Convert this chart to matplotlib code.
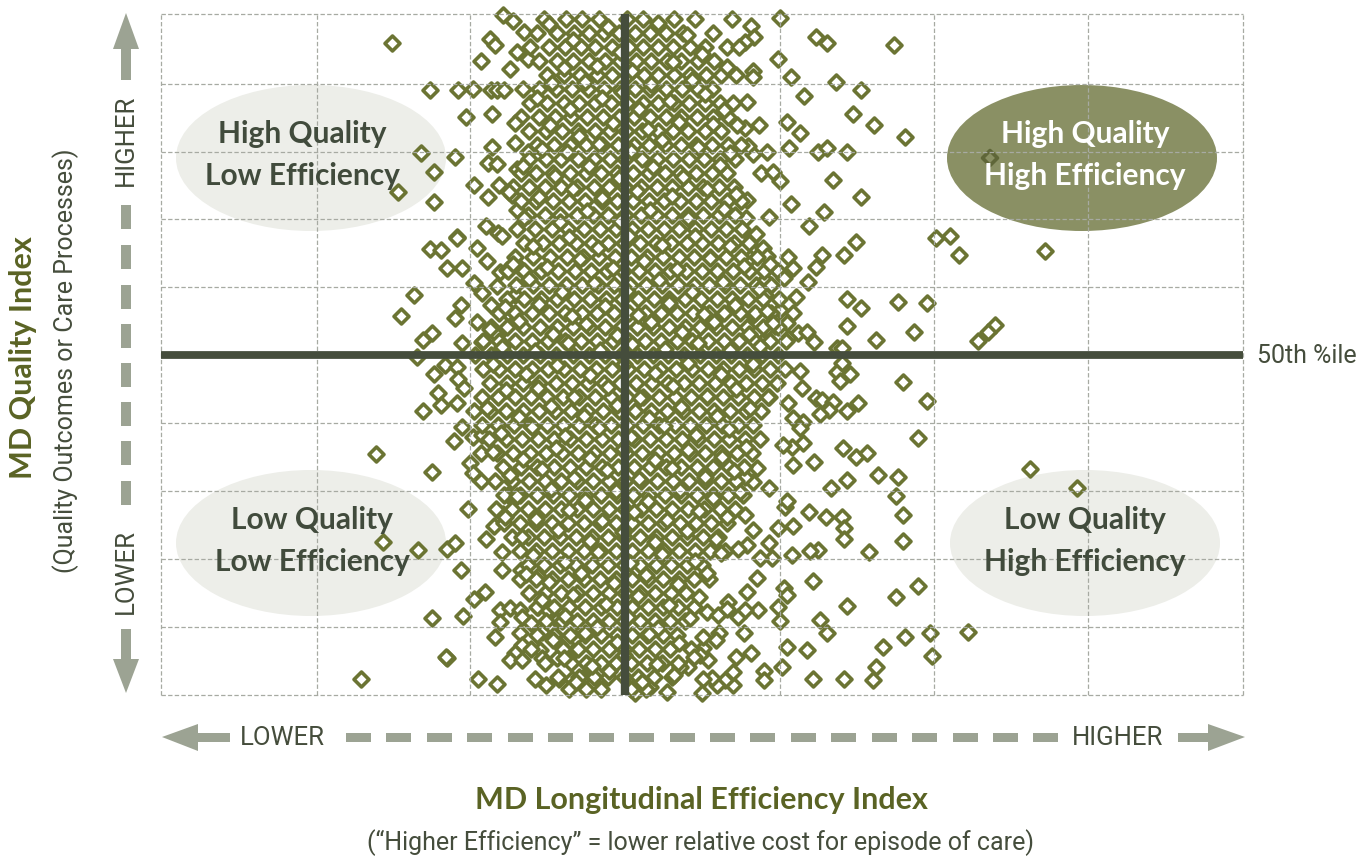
from matplotlib import pyplot as plt
from matplotlib.patches import Ellipse, Polygon, Rectangle

# values, index units on both axes
eff_grid = [0, 156, 309, 464, 619, 773, 927, 1082]
qual_grid = [0, 68, 136, 204, 272, 340, 408, 476, 543, 611, 681]
eff_median = 464
qual_median = 340

# scattered points around the dense cloud (efficiency, quality)
upper_left = [(231, 652), (329, 656), (334, 650), (320, 634), (342, 680), (352, 674), (363, 663), (356, 643),
              (367, 636), (349, 626), (269, 605), (297, 605), (312, 606), (330, 605), (336, 605), (343, 605),
              (305, 578), (331, 581), (260, 542), (294, 538), (331, 548), (354, 552), (367, 543), (273, 523),
              (327, 532), (336, 531), (356, 526), (237, 503), (273, 493), (313, 510), (327, 498), (338, 510),
              (351, 500), (356, 485), (325, 469), (337, 462), (296, 458), (296, 457), (269, 446), (280, 445),
              (316, 447), (326, 434), (286, 427), (301, 427), (339, 423), (346, 425), (359, 427), (253, 400),
              (240, 379), (313, 412), (321, 402), (300, 390), (294, 377), (330, 390), (271, 362), (262, 355),
              (301, 352), (316, 373), (321, 353), (336, 360), (347, 382), (354, 400)]
lower_left = [(256, 338), (284, 330), (296, 328), (273, 321), (297, 316), (303, 307), (277, 302), (280, 290),
              (296, 292), (262, 284), (301, 268), (293, 254), (312, 258), (321, 260), (215, 241), (271, 223),
              (309, 232), (312, 222), (320, 214), (307, 186), (342, 181), (333, 169), (347, 200), (222, 153),
              (257, 145), (286, 146), (294, 152), (325, 156), (341, 143), (300, 125), (341, 125), (360, 125),
              (377, 119), (324, 103), (313, 96), (271, 77), (302, 79), (339, 85), (349, 87), (359, 85),
              (361, 78), (339, 73), (334, 58), (359, 62), (361, 50), (286, 37), (285, 38), (354, 42),
              (349, 35), (361, 35), (200, 16), (317, 16), (336, 11), (374, 16), (385, 10), (398, 16),
              (411, 16), (422, 17), (379, 45), (381, 37), (396, 37), (414, 45), (414, 57), (399, 50),
              (427, 30), (381, 63), (394, 60), (377, 88), (387, 85), (396, 75)]
upper_right = [(619, 677), (655, 658), (666, 652), (733, 650), (590, 669), (593, 658), (584, 653), (617, 636),
               (592, 624), (592, 618), (630, 618), (675, 613), (700, 605), (643, 599), (586, 593), (598, 570),
               (584, 567), (576, 570), (626, 573), (639, 562), (692, 581), (713, 570), (744, 558), (628, 547),
               (657, 543), (666, 547), (686, 543), (606, 543), (592, 541), (587, 549), (600, 522), (612, 523),
               (619, 514), (672, 515), (700, 498), (630, 491), (663, 483), (608, 478), (648, 469), (586, 495),
               (585, 477), (695, 453), (683, 440), (661, 440), (655, 428), (632, 427), (627, 438), (617, 424),
               (623, 417), (647, 413), (591, 457), (602, 447), (606, 439), (589, 437), (775, 457), (789, 459),
               (798, 440), (884, 444), (635, 398), (686, 396), (700, 387), (737, 393), (766, 392), (619, 385),
               (632, 382), (686, 369), (753, 363), (715, 355), (834, 370), (827, 363), (817, 354), (614, 369),
               (626, 372), (637, 362), (646, 363), (653, 353), (627, 357), (676, 347), (681, 347), (604, 415),
               (604, 400), (592, 380), (601, 353), (606, 367)]
lower_right = [(639, 324), (641, 307), (676, 323), (689, 321), (679, 314), (681, 332), (742, 313), (766, 294),
               (655, 297), (661, 295), (672, 293), (668, 285), (659, 281), (686, 284), (697, 292), (627, 292),
               (632, 277), (642, 273), (639, 267), (757, 257), (642, 252), (631, 248), (622, 250), (632, 230),
               (653, 233), (682, 247), (695, 238), (706, 242), (717, 220), (737, 218), (686, 215), (670, 207),
               (735, 199), (742, 180), (869, 226), (916, 207), (648, 183), (665, 178), (681, 178), (683, 167),
               (683, 156), (742, 154), (632, 169), (617, 167), (624, 188), (626, 194), (608, 207), (592, 165),
               (657, 145), (649, 144), (708, 143), (631, 140), (611, 137), (608, 152), (599, 137), (652, 114),
               (757, 109), (735, 98), (686, 89), (623, 107), (626, 100), (617, 88), (619, 74), (597, 85),
               (659, 75), (666, 62), (744, 58), (769, 62), (807, 63), (722, 48), (771, 39), (626, 48),
               (646, 45), (621, 28), (715, 28), (603, 24), (603, 15), (652, 16), (683, 16), (712, 15),
               (590, 42), (575, 38), (572, 10), (572, 23), (564, 15), (556, 10), (551, 17), (542, 16),
               (541, 2), (547, 35), (542, 47), (539, 40), (542, 58), (558, 62), (583, 62), (577, 78),
               (584, 85), (546, 83), (557, 80), (567, 93), (586, 103), (596, 117), (596, 227), (592, 213),
               (584, 218), (584, 180), (586, 150), (577, 146), (506, 3), (474, 2), (489, 8), (527, 28), (519, 28)]
# the one point that sits on the dark oval
on_dark_oval = [(829, 537)]

# dense cloud, one list of efficiency values per quality level
dense_quality = [676, 662, 648, 634, 620, 606, 592, 578, 564, 550, 536, 522, 508, 494, 480, 466, 452, 438, 424,
                 410, 396, 382, 368, 354, 340, 326, 312, 298, 284, 270, 256, 242, 228, 214, 200, 186, 172, 158,
                 144, 130, 116, 102, 88, 74, 60, 46, 32, 18, 6]
dense_efficiency = [
    [383, 405, 421, 438, 466, 482, 513, 534, 571],
    [376, 396, 413, 428, 443, 458, 474, 489, 505, 522, 552],
    [369, 388, 404, 420, 434, 451, 468, 482, 497, 512, 529, 544, 566, 578],
    [378, 396, 412, 428, 444, 459, 475, 490, 506, 520, 537, 553],
    [386, 403, 419, 436, 451, 467, 483, 497, 513, 529, 545, 560, 575],
    [362, 378, 395, 411, 427, 443, 459, 474, 489, 505, 521, 537, 551],
    [369, 386, 403, 418, 434, 450, 466, 482, 497, 513, 528, 544, 559, 572],
    [360, 378, 394, 410, 426, 442, 458, 473, 489, 505, 520, 536, 552, 567],
    [368, 385, 401, 417, 434, 449, 465, 481, 497, 512, 527, 544, 560],
    [376, 393, 409, 425, 441, 457, 473, 488, 504, 520, 535, 551, 567, 580],
    [368, 385, 400, 417, 433, 449, 464, 481, 496, 512, 528, 543, 559, 574],
    [360, 375, 392, 409, 425, 440, 456, 472, 488, 504, 519, 535, 551, 566],
    [352, 368, 384, 400, 416, 433, 448, 464, 480, 496, 511, 527, 542, 558, 573],
    [360, 375, 392, 408, 424, 441, 456, 472, 488, 503, 519, 535, 550, 566, 580],
    [367, 384, 399, 416, 432, 447, 464, 480, 495, 511, 527, 542, 558, 574],
    [356, 374, 391, 407, 423, 439, 455, 471, 487, 503, 518, 534, 550, 565, 581],
    [363, 382, 398, 415, 431, 447, 463, 479, 495, 510, 526, 541, 557, 573, 588],
    [354, 372, 389, 406, 422, 438, 454, 470, 486, 502, 518, 533, 549, 565, 580, 596],
    [347, 363, 380, 397, 414, 430, 446, 462, 478, 494, 509, 525, 541, 556, 572, 588, 603],
    [355, 372, 388, 405, 421, 437, 453, 469, 485, 501, 517, 533, 548, 564, 579, 595, 610],
    [346, 363, 380, 396, 413, 429, 445, 461, 477, 493, 508, 524, 540, 556, 571, 587, 602, 618],
    [338, 354, 371, 388, 404, 421, 436, 453, 468, 484, 500, 516, 532, 548, 563, 579, 594, 610],
    [330, 346, 362, 379, 396, 412, 428, 444, 460, 476, 492, 508, 524, 539, 555, 571, 586, 602, 617],
    [322, 338, 354, 371, 387, 404, 420, 436, 452, 468, 484, 500, 516, 531, 547, 563, 578, 594, 609, 625],
    [314, 330, 346, 362, 379, 395, 412, 428, 444, 460, 476, 492, 507, 523, 539, 555, 570, 586, 601, 617],
    [322, 338, 354, 371, 387, 403, 419, 435, 451, 467, 483, 499, 515, 531, 547, 562, 578, 593, 609, 624],
    [329, 346, 362, 378, 395, 411, 427, 443, 459, 475, 491, 507, 523, 538, 554, 570, 585, 601, 616],
    [321, 337, 354, 370, 386, 402, 418, 434, 450, 466, 482, 498, 514, 530, 546, 562, 577, 593, 608],
    [313, 329, 345, 362, 378, 394, 410, 426, 442, 458, 474, 490, 506, 522, 538, 553, 569, 585, 600],
    [321, 337, 353, 369, 386, 402, 418, 434, 450, 466, 482, 498, 514, 529, 545, 561, 577, 592],
    [328, 345, 361, 377, 393, 409, 425, 441, 457, 473, 489, 505, 521, 537, 553, 568, 584, 599],
    [320, 336, 352, 369, 385, 401, 417, 433, 449, 465, 481, 497, 513, 529, 544, 560, 576, 591],
    [342, 360, 376, 393, 409, 425, 441, 457, 473, 489, 505, 520, 536, 552, 568, 583],
    [334, 351, 368, 384, 400, 416, 432, 448, 464, 480, 496, 512, 528, 544, 560, 575],
    [343, 359, 376, 392, 408, 424, 440, 456, 472, 488, 504, 520, 536, 552, 567, 582],
    [335, 351, 367, 384, 400, 416, 432, 448, 464, 480, 495, 511, 527, 543, 559, 574],
    [343, 359, 375, 391, 407, 423, 439, 455, 471, 487, 503, 519, 535, 550, 566],
    [351, 367, 383, 399, 415, 431, 447, 463, 479, 495, 511, 526, 542, 557],
    [359, 375, 391, 407, 423, 439, 455, 471, 487, 503, 518, 534, 549, 564],
    [367, 383, 399, 415, 431, 447, 463, 479, 495, 510, 526, 541],
    [359, 375, 391, 407, 423, 439, 455, 471, 487, 502, 518, 533, 548],
    [368, 384, 400, 416, 432, 448, 464, 479, 494, 510, 525],
    [376, 393, 408, 424, 440, 456, 471, 487, 502, 517, 533],
    [385, 401, 416, 432, 448, 463, 479, 494, 509, 524],
    [376, 393, 409, 424, 440, 456, 471, 486, 502, 516],
    [370, 402, 417, 432, 448, 463, 478, 494, 509, 530],
    [384, 410, 425, 440, 455, 470, 486, 501, 517],
    [397, 418, 433, 447, 463, 477, 493, 511],
    [408, 425, 440, 470, 485],
]

# points between the levels above, where the cloud overlaps itself
dense_between = [(388, 671), (412, 655), (447, 668), (459, 643), (497, 672), (526, 660), (541, 641), (403, 627),
                 (436, 629), (471, 624), (512, 633), (391, 612), (424, 613), (461, 603), (490, 611), (531, 615),
                 (566, 628), (376, 597), (409, 586), (441, 597), (478, 586), (509, 594), (544, 601), (563, 585),
                 (354, 572), (389, 570), (418, 559), (452, 572), (487, 566), (518, 573), (552, 571), (381, 546),
                 (406, 543), (438, 551), (470, 544), (501, 555), (537, 548), (569, 542), (362, 529), (394, 519),
                 (428, 529), (458, 517), (492, 528), (522, 518), (559, 530), (348, 503), (378, 498), (412, 506),
                 (441, 497), (476, 504), (511, 499), (546, 506), (575, 501), (363, 477), (399, 473), (426, 484),
                 (459, 474), (489, 485), (527, 477), (563, 486), (341, 459), (372, 449), (408, 458), (437, 447),
                 (468, 459), (501, 450), (534, 459), (569, 449), (595, 461), (352, 431), (386, 428), (419, 436),
                 (452, 427), (483, 434), (516, 426), (549, 437), (583, 429), (609, 431), (336, 409), (368, 416),
                 (401, 403), (433, 412), (466, 404), (498, 415), (531, 403), (562, 413), (598, 406), (344, 388),
                 (378, 391), (411, 379), (444, 389), (477, 380), (508, 392), (543, 381), (574, 390), (606, 384),
                 (329, 366), (358, 374), (392, 361), (425, 371), (456, 360), (490, 373), (521, 363), (553, 373),
                 (588, 361), (612, 372), (341, 348), (374, 344), (407, 352), (439, 345), (471, 351), (504, 346),
                 (537, 352), (569, 345), (599, 349), (332, 331), (365, 321), (396, 330), (429, 320), (463, 331),
                 (494, 322), (527, 332), (560, 321), (592, 331), (345, 305), (377, 307), (413, 298), (447, 308),
                 (479, 297), (512, 309), (546, 299), (575, 306), (607, 298), (326, 287), (358, 278), (390, 289),
                 (423, 279), (456, 290), (488, 277), (520, 288), (556, 279), (589, 287), (340, 262), (371, 268),
                 (404, 259), (438, 267), (470, 258), (503, 269), (535, 260), (568, 266), (332, 243), (362, 236),
                 (395, 247), (429, 237), (462, 246), (494, 235), (527, 245), (561, 238), (585, 248), (349, 220),
                 (381, 226), (413, 217), (446, 225), (478, 216), (511, 227), (544, 218), (573, 224), (356, 199),
                 (390, 206), (424, 195), (455, 204), (487, 194), (519, 205), (552, 197), (579, 203), (344, 178),
                 (375, 176), (408, 185), (441, 174), (473, 183), (506, 175), (538, 184), (566, 178), (361, 158),
                 (397, 165), (429, 154), (462, 163), (494, 153), (526, 164), (555, 156), (372, 140), (404, 133),
                 (437, 143), (469, 132), (501, 141), (534, 134), (560, 142), (365, 121), (388, 113), (420, 122),
                 (453, 112), (485, 120), (517, 111), (546, 122), (381, 95), (412, 100), (445, 91), (477, 99),
                 (508, 90), (538, 98), (566, 86), (370, 72), (404, 79), (436, 68), (467, 78), (497, 67),
                 (529, 77), (392, 55), (424, 62), (456, 53), (488, 61), (518, 52), (555, 55), (403, 37),
                 (431, 29), (463, 40), (496, 31), (533, 38), (415, 13), (448, 24), (481, 13), (513, 20)]

oval_labels = [("High Quality\nLow Efficiency", 150, 537, "#edeee9", "#414b3c", 302, 155),
               ("High Quality\nHigh Efficiency", 921, 537, "#8a9064", "#ffffff", 1085, 155),
               ("Low Quality\nLow Efficiency", 150, 152, "#edeee9", "#414b3c", 312, 541),
               ("Low Quality\nHigh Efficiency", 924, 152, "#edeee9", "#414b3c", 1085, 541)]

olive = "#6b7433"
dark = "#454d3c"
arrow_grey = "#9ca393"
title_green = "#5a6324"
label_font = "Roboto"

fig = plt.figure(figsize=(13.7, 8.56), dpi=100)

# overlay in pixel space for the arrows and the text
ov = fig.add_axes([0, 0, 1, 1], zorder=5)
ov.set_xlim(0, 1370)
ov.set_ylim(856, 0)
ov.axis("off")
ov.patch.set_alpha(0)

ax = fig.add_axes([161 / 1370, (856 - 695) / 856, 1082 / 1370, 681 / 856], zorder=1)
ax.set_xlim(0, 1082)
ax.set_ylim(0, 681)
for s in ax.spines.values():
    s.set_visible(False)
ax.set_xticks(eff_grid)
ax.set_yticks(qual_grid)
ax.tick_params(length=0, labelbottom=False, labelleft=False)
ax.set_axisbelow(False)
ax.grid(True, color="#a7aaa2", lw=0.9, linestyle=(0, (3.5, 1.8)), clip_on=False)

for label, cx, cy, fc, tc, tx, ty in oval_labels:
    ax.add_patch(Ellipse((cx, cy), 270, 146, fc=fc, ec="none", zorder=1))
    ov.text(tx, ty, label, color=tc, ha="center", va="center", family="Lato", weight="bold",
            fontsize=21.5, linespacing=1.62)

eff = [p[0] for p in upper_left + lower_left + upper_right + lower_right]
qual = [p[1] for p in upper_left + lower_left + upper_right + lower_right]
for q, row in zip(dense_quality, dense_efficiency):
    eff += row
    qual += [q] * len(row)
eff += [p[0] for p in dense_between]
qual += [p[1] for p in dense_between]

ax.scatter(eff, qual, marker="D", s=58, facecolor="white", edgecolor=olive, linewidth=2.6,
           zorder=2, clip_on=False)
ax.scatter([p[0] for p in on_dark_oval], [p[1] for p in on_dark_oval], marker="D", s=58,
           facecolor="none", edgecolor="#5f6638", linewidth=2.6, zorder=2)

ax.axhline(qual_median, color=dark, lw=5.6, zorder=4, solid_capstyle="butt")
ax.axvline(eff_median, color=dark, lw=6, zorder=4, solid_capstyle="butt")

# axis arrows
ov.add_patch(Polygon([(126, 13), (113, 49), (121, 49), (121, 80), (131, 80), (131, 49), (139, 49)], fc=arrow_grey, ec="none"))
ov.add_patch(Polygon([(126, 693), (113, 659), (121, 659), (121, 629), (131, 629), (131, 659), (139, 659)], fc=arrow_grey, ec="none"))
for y in [205, 245, 285, 324, 363, 402, 441, 481]:
    ov.add_patch(Rectangle((121, y), 10, 24, fc=arrow_grey, ec="none"))
ov.add_patch(Polygon([(162, 737), (198, 724), (198, 733), (230, 733), (230, 742), (198, 742), (198, 751)], fc=arrow_grey, ec="none"))
ov.add_patch(Polygon([(1245, 737), (1208, 724), (1208, 733), (1178, 733), (1178, 742), (1208, 742), (1208, 751)], fc=arrow_grey, ec="none"))
for x in [346, 386, 427, 467, 508, 548, 589, 629, 670, 710, 750, 791, 831, 872, 912, 953, 993, 1033]:
    ov.add_patch(Rectangle((x, 733), 25, 9, fc=arrow_grey, ec="none"))

ov.text(126, 140, "HIGHER", rotation=90, ha="center", va="center", family=label_font, fontsize=18.5, color=dark)
ov.text(126, 572, "LOWER", rotation=90, ha="center", va="center", family=label_font, fontsize=18.5, color=dark)
ov.text(282, 738, "LOWER", ha="center", va="center", family=label_font, fontsize=18.5, color=dark)
ov.text(1118, 738, "HIGHER", ha="center", va="center", family=label_font, fontsize=18.5, color=dark)
ov.text(1257, 356, "50th %ile", ha="left", va="center", family=label_font, fontsize=18, color=dark)
ov.text(23, 358, "MD Quality Index", rotation=90, ha="center", va="center", family="Lato", weight="bold",
        fontsize=22, color=title_green)
ov.text(66, 361, "(Quality Outcomes or Care Processes)", rotation=90, ha="center", va="center", family=label_font,
        fontsize=18, color=dark)
ov.text(701, 800, "MD Longitudinal Efficiency Index", ha="center", va="center", family="Lato", weight="bold",
        fontsize=22, color=title_green)
ov.text(701, 843, "(“Higher Efficiency” = lower relative cost for episode of care)", ha="center", va="center",
        family=label_font, fontsize=18, color=dark)

fig.savefig("out.png", dpi=100)
